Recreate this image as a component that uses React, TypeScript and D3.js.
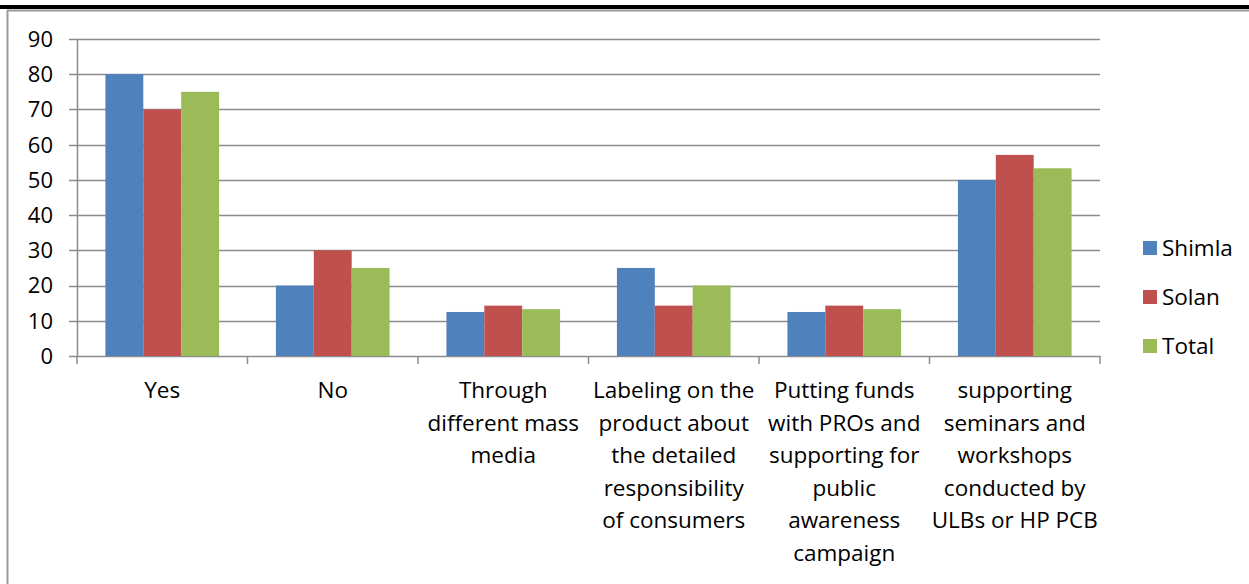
import React from "react";
import * as d3 from "d3";

const categories: string[][] = [
  ["Yes"],
  ["No"],
  ["Through", "different mass", "media"],
  ["Labeling on the", "product about", "the detailed", "responsibility", "of consumers"],
  ["Putting funds", "with PROs and", "supporting for", "public", "awareness", "campaign"],
  ["supporting", "seminars and", "workshops", "conducted by", "ULBs or HP PCB"],
];
const seriesNames = ["Shimla", "Solan", "Total"];
const shimla = [80, 20, 12.5, 25, 12.5, 50];
const solan = [70, 30, 14.3, 14.3, 14.3, 57.1];
const total = [75, 25, 13.3, 20, 13.3, 53.3];
const yTicks = [0, 10, 20, 30, 40, 50, 60, 70, 80, 90];
const colors = ["#4F81BD", "#C0504D", "#9BBB59"];

export default function App() {
  const W = 1249, H = 584;
  const left = 77, right = 1100, top = 39, bottom = 356;
  const x = d3.scaleBand<number>().domain(d3.range(categories.length)).range([left, right]).paddingInner(0).paddingOuter(0);
  const y = d3.scaleLinear().domain([0, 90]).range([bottom, top]);
  const series = [shimla, solan, total];
  const bw = x.bandwidth() / 4.5;
  const font = "'Open Sans', Lato, sans-serif";
  const fs = 22.5;
  return (
    <svg width={W} height={H} style={{ position: "absolute", left: 0, top: 0, background: "#fff" }} fontFamily={font}>
      <rect x={0} y={0} width={W} height={H} fill="#fff" />
      <rect x={0} y={5} width={W} height={4} fill="#000" />
      <line x1={7} y1={10.5} x2={W} y2={10.5} stroke="#999" strokeWidth={2} />
      <line x1={7.5} y1={10} x2={7.5} y2={H} stroke="#999" strokeWidth={2} />
      {yTicks.map((t) => (
        <g key={t}>
          <line x1={69} x2={right} y1={Math.round(y(t)) + 0.5} y2={Math.round(y(t)) + 0.5} stroke="#8c8c8c" strokeWidth={1.5} />
          <text x={53} y={y(t)} dy="0.36em" textAnchor="end" fontSize={22} fill="#000">{t}</text>
        </g>
      ))}
      <line x1={left + 0.5} x2={left + 0.5} y1={top} y2={bottom} stroke="#8c8c8c" strokeWidth={1.5} />
      {d3.range(categories.length + 1).map((i) => {
        const xx = i < categories.length ? x(i)! : right;
        return <line key={i} x1={xx} x2={xx} y1={bottom} y2={bottom + 8} stroke="#8c8c8c" strokeWidth={1.5} />;
      })}
      {series.map((s, si) =>
        s.map((v, ci) => (
          <rect key={si + "-" + ci} x={x(ci)! + bw * 0.75 + si * bw} y={y(v)} width={bw} height={bottom - y(v)} fill={colors[si]} />
        ))
      )}
      {categories.map((lines, ci) => (
        <text key={ci} textAnchor="middle" fontSize={fs} fill="#000">
          {lines.map((l, li) => (
            <tspan key={li} x={x(ci)! + x.bandwidth() / 2} y={398 + li * 32.6}>{l}</tspan>
          ))}
        </text>
      ))}
      {seriesNames.map((n, i) => (
        <g key={n}>
          <rect x={1143} y={241 + i * 49} width={14} height={14} fill={colors[i]} />
          <text x={1162} y={248 + i * 49} dy="0.36em" fontSize={fs} fill="#000">{n}</text>
        </g>
      ))}
    </svg>
  );
}
